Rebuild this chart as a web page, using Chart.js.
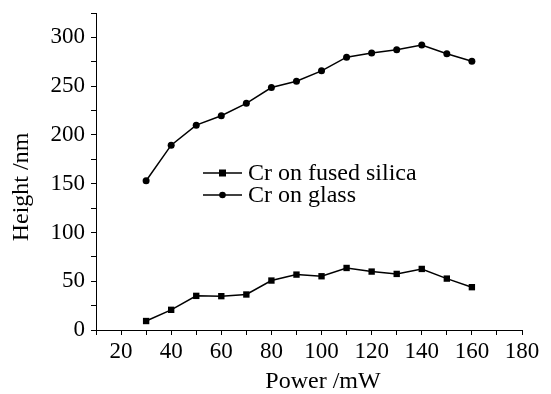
<!DOCTYPE html>
<html>
<head>
<meta charset="utf-8">
<script src="https://cdn.jsdelivr.net/npm/chart.js@4/dist/chart.umd.min.js"></script>
<style>
  html, body { margin: 0; padding: 0; background: #fff; }
  #wrap { width: 551px; height: 394px; }
</style>
</head>
<body>
<div id="wrap"><canvas id="chart" width="551" height="394"></canvas></div>
<script>
const power = [30, 40, 50, 60, 70, 80, 90, 100, 110, 120, 130, 140, 150, 160];
const fusedSilica = [9.2, 20.7, 35, 34.7, 36.4, 50.7, 56.8, 55.1, 63.6, 59.9, 57.5, 62.6, 52.7, 43.9];
const glass = [153, 189.5, 210, 219.7, 232.4, 248.6, 255, 265.7, 279.7, 283.9, 287.3, 292.1, 283.2, 275.6];
const seriesNames = ['Cr on fused silica', 'Cr on glass'];
const xTitle = 'Power /mW';
const yTitle = 'Height /nm';

const FONT = '"Liberation Serif", "Times New Roman", serif';

function points(ys) {
    return power.map((p, i) => ({ x: p, y: ys[i] }));
}

// legend inside the plot and axis titles
const extras = {
    id: 'extras',
    afterDraw(chart) {
        const ctx = chart.ctx;
        ctx.save();
        ctx.fillStyle = '#000';
        ctx.strokeStyle = '#000';
        ctx.font = '24px ' + FONT;
        ctx.textBaseline = 'middle';
        const rows = [173, 195];
        chart.data.datasets.forEach((ds, i) => {
            const y = rows[i];
            ctx.lineWidth = 1.5;
            ctx.beginPath();
            ctx.moveTo(203, y);
            ctx.lineTo(242, y);
            ctx.stroke();
            if (ds.pointStyle === 'rect') {
                ctx.fillRect(222.5 - 3.5, y - 3.5, 7, 7);
            } else {
                ctx.beginPath();
                ctx.arc(222.5, y, 3.3, 0, Math.PI * 2);
                ctx.fill();
            }
            ctx.textAlign = 'left';
            ctx.fillText(ds.label, 248, y + 1);
        });

        // axis titles
        ctx.textAlign = 'center';
        ctx.fillText(xTitle, 323, 382);
        ctx.translate(22, 187);
        ctx.rotate(-Math.PI / 2);
        ctx.fillText(yTitle, 0, 0);
        ctx.restore();
    }
};

new Chart(document.getElementById('chart').getContext('2d'), {
    type: 'line',
    plugins: [extras],
    data: {
        datasets: [
            {
                label: seriesNames[0],
                data: points(fusedSilica),
                borderColor: '#000',
                backgroundColor: '#000',
                borderWidth: 1.5,
                pointStyle: 'rect',
                pointRadius: 4.5,
                pointBorderWidth: 0,
                tension: 0
            },
            {
                label: seriesNames[1],
                data: points(glass),
                borderColor: '#000',
                backgroundColor: '#000',
                borderWidth: 1.5,
                pointStyle: 'circle',
                pointRadius: 3.5,
                pointBorderWidth: 0,
                tension: 0
            }
        ]
    },
    options: {
        responsive: false,
        animation: false,
        layout: { padding: { top: 13, right: 29, left: 0, bottom: 0 } },
        plugins: {
            legend: { display: false },
            title: { display: false },
            tooltip: { enabled: false }
        },
        scales: {
            x: {
                type: 'linear',
                min: 10,
                max: 180,
                afterFit: function (scale) { scale.height = 64; },
                border: { display: true, color: '#000', width: 1 },
                grid: { drawOnChartArea: false, drawTicks: true, tickLength: 5, color: '#000' },
                ticks: {
                    stepSize: 10,
                    autoSkip: false,
                    maxRotation: 0,
                    padding: 3,
                    color: '#000',
                    font: { family: FONT, size: 23 },
                    callback: v => (v % 20 === 0 ? v : '')
                }
            },
            y: {
                min: 0,
                max: 325,
                afterFit: function (scale) {
                    scale.width = 96;
                    scale.paddingTop = 0;
                },
                border: { display: true, color: '#000', width: 1 },
                grid: { drawOnChartArea: false, drawTicks: true, tickLength: 5, color: '#000' },
                ticks: {
                    stepSize: 25,
                    autoSkip: false,
                    padding: 6,
                    color: '#000',
                    font: { family: FONT, size: 23 },
                    callback: v => (v % 50 === 0 ? v : '')
                }
            }
        }
    }
});
</script>
</body>
</html>
